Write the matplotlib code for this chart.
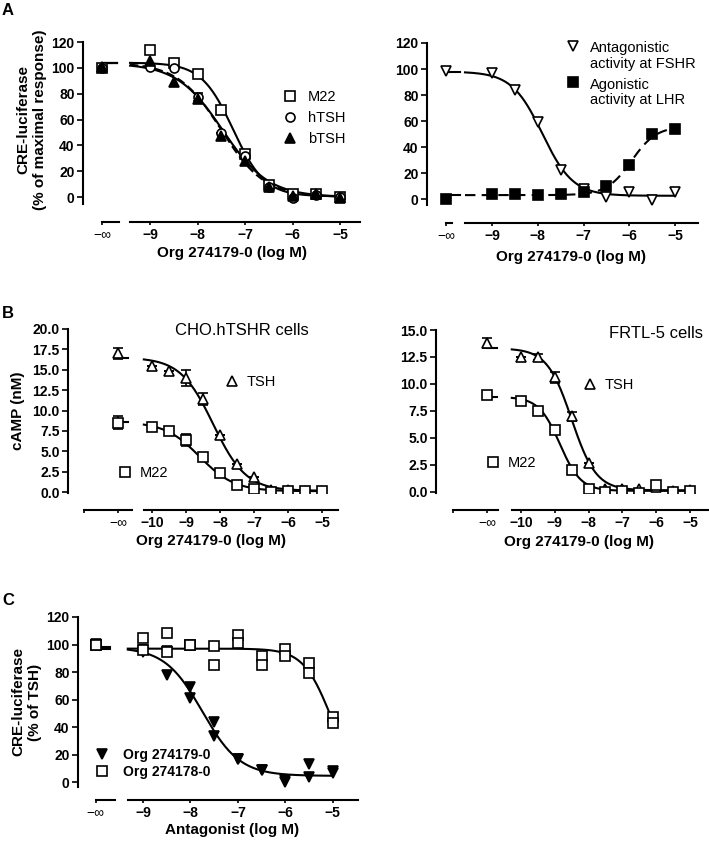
import numpy as np
import matplotlib
matplotlib.use("Agg")
import matplotlib.pyplot as plt
from matplotlib.legend_handler import HandlerLine2D

plt.rcParams["font.family"] = ["Liberation Sans", "DejaVu Sans"]
plt.rcParams["font.weight"] = "bold"
plt.rcParams["axes.labelweight"] = "bold"

W, H = 709, 846
NEG_INF = -np.inf

# ---------------- data ----------------
# panel A (left): CRE-luciferase, % of maximal response
dose_a = [NEG_INF, -9, -8.5, -8, -7.5, -7, -6.5, -6, -5.5, -5]
a_m22 = [100, 114, 104, 95, 67, 33, 9, 2, 2.5, 0]
a_m22_err = [0, 0, 3, 0, 0, 3, 0, 0, 0, 0]
a_htsh = [100, 101, 99.5, 77.5, 49.5, 31.5, 8, -0.8, 1.8, 0]
a_htsh_err = [0, 0, 0, 3, 0, 0, 0, 0, 0, 0]
a_btsh = [101, 105, 89, 76, 47, 27.5, 7.7, 0.5, 2, -0.8]
# fitted curves: top, bottom, logIC50, hill
fit_a_m22 = [104, 0.5, -7.25, 1.3]
fit_a_htsh = [103.5, 0, -7.47, 0.9]
fit_a_btsh = [104, 0, -7.5, 0.95]

# panel A (right)
a_fshr = [98.5, 97, 84, 59, 22.5, 8, 1.5, 5.5, -0.5, 5.5]
a_lhr = [0, 3.6, 3.6, 2.8, 4, 5.4, 9.7, 26, 50, 54]
fit_a_fshr = [98, 2.5, -7.9, 1.3]
fit_a_lhr = [56, 3, -5.95, -1.6]

# panel B: cAMP (nM)
dose_b = [NEG_INF, -10, -9.5, -9, -8.5, -8, -7.5, -7, -6.5, -6, -5.5, -5]
b1_tsh = [17.0, 15.5, 14.9, 14.0, 11.4, 7.0, 3.4, 1.8, 0.3, 0.25, 0.15, 0.15]
b1_tsh_err = [0.7, 0, 0, 1.0, 0.7, 0, 0, 0, 0, 0, 0, 0]
b1_m22 = [8.5, 8.0, 7.5, 6.4, 4.3, 2.3, 0.9, 0.4, 0, 0.1, 0.1, 0.1]
b1_m22_err = [0.8, 0, 0, 0.7, 0, 0, 0, 0, 0, 0, 0, 0]
fit_b1_tsh = [16.5, 0.15, -8.2, 0.9]
fit_b1_m22 = [8.6, 0.1, -8.6, 0.85]

b2_tsh = [13.8, 12.5, 12.5, 10.6, 7.0, 2.7, 0.3, 0.25, 0.25, 0.5, 0.12, 0.2]
b2_tsh_err = [0.5, 0, 0.3, 0.5, 0.4, 0, 0, 0, 0, 0, 0, 0]
b2_m22 = [8.95, 8.45, 7.5, 5.75, 2.0, 0.25, 0, 0.1, -0.1, 0.6, 0, 0.1]
fit_b2_tsh = [13.3, 0.15, -8.5, 1.2]
fit_b2_m22 = [8.8, 0.1, -8.85, 1.4]

# panel C: CRE-luciferase, % of TSH (duplicates)
dose_c = [NEG_INF, -9, -8.5, -8, -7.5, -7, -6.5, -6, -5.5, -5]
c179_rep1 = [100.7, 96, 95.5, 69, 44, 17, 8.5, 1.5, 12.8, 8]
c179_rep2 = [100, 94.7, 78, 60.8, 33.7, 17, 9, 0, 3.9, 6.8]
c178_rep1 = [99.5, 104.8, 108.5, 99.5, 98.8, 106.7, 91.5, 97, 86.2, 47.5]
c178_rep2 = [99.5, 95.9, 94.7, 99.5, 85, 101.2, 85, 91.5, 79.4, 43.1]
fit_c179 = [98, 4.5, -7.75, 1.1]
fit_c178 = [97, 0, -5.05, 1.5]

LW = 1.5
MS = 6.5
MEW = 1.2
INF_LABEL = "\u2212\u221e"


class FirstLineHandler(HandlerLine2D):
    # put the legend marker level with the first line of a two-line label
    def create_artists(self, legend, orig_handle, xdescent, ydescent,
                       width, height, fontsize, trans):
        arts = super().create_artists(legend, orig_handle, xdescent, ydescent,
                                      width, height, fontsize, trans)
        for a in arts:
            a.set_ydata(np.asarray(a.get_ydata()) + 0.75 * fontsize)
        return arts


def logistic(x, p):
    top, bottom, x50, hill = p
    return bottom + (top - bottom) / (1 + 10 ** ((np.asarray(x) - x50) * hill))


def xpos(dose, xinf):
    d = np.array(dose, dtype=float)
    d[np.isinf(d)] = xinf
    return d


def make_axes(fig, box, xlim, ylim, yticks, fmt, inf_ticks, inf_labels,
              inf_seg, main_seg, xticks, offset):
    l, t, r, b = box
    ax = fig.add_axes([l / W, 1 - b / H, (r - l) / W, (b - t) / H])
    ax.set_xlim(xlim)
    ax.set_ylim(ylim)
    for s in ("top", "right"):
        ax.spines[s].set_visible(False)
    ax.spines["left"].set_linewidth(LW)
    ax.spines["bottom"].set_linewidth(LW)
    ax.spines["bottom"].set_position(("outward", offset))
    ax.spines["bottom"].set_bounds(*main_seg)
    ax.set_xticks(xticks, labels=["\u2212%d" % abs(v) for v in xticks],
                  fontweight="bold", fontsize=10)
    ax.set_yticks(yticks, labels=[fmt % v for v in yticks],
                  fontweight="bold", fontsize=10)
    ax.tick_params(axis="y", direction="out", length=4, width=1.2, pad=2)
    ax.tick_params(axis="x", direction="out", length=2.5, width=1.2, pad=2)

    ax2 = ax.twiny()
    ax2.set_xlim(xlim)
    for s in ("top", "right", "left"):
        ax2.spines[s].set_visible(False)
    ax2.xaxis.set_ticks_position("bottom")
    ax2.spines["bottom"].set_linewidth(LW)
    ax2.spines["bottom"].set_position(("outward", offset))
    ax2.spines["bottom"].set_bounds(*inf_seg)
    ax2.set_xticks(inf_ticks, labels=inf_labels, fontweight="normal",
                   fontsize=10)
    ax2.tick_params(axis="x", direction="out", length=2.5, width=1.2, pad=2)
    return ax


def draw_series(ax, dose, vals, xinf, marker, filled, err=None):
    x = xpos(dose, xinf)
    if err is not None:
        ax.errorbar(x, vals, yerr=err, fmt="none", ecolor="black",
                    elinewidth=1.2, capsize=3.5, capthick=1.2, zorder=2)
    h, = ax.plot(x, vals, ls="none", marker=marker, ms=MS, mew=MEW,
                 mec="black", mfc="black" if filled else "white", zorder=3)
    return h


def draw_fit(ax, p, x0, xinf, ls="-"):
    xs = np.linspace(x0, -5, 300)
    ax.plot(xs, logistic(xs, p), color="black", lw=LW, ls=ls, zorder=1)
    y_inf = logistic(-30, p)
    ax.plot([xinf, xinf + 0.3], [y_inf, y_inf], color="black", lw=LW,
            ls="-", zorder=1)


legend_kw = dict(frameon=False, handlelength=1, borderpad=0, borderaxespad=0)
plain = {"weight": "normal", "size": 10.5}

fig = plt.figure(figsize=(W / 100, H / 100), dpi=100)

# ---------------- panel A left ----------------
main = (-9.42, -4.58)
ax = make_axes(fig, (83, 42, 360, 204), (-10.41, -4.58), (-5.4, 120),
               range(0, 121, 20), "%d", [-10], [INF_LABEL],
               (-10, -9.65), main, [-9, -8, -7, -6, -5], 13)
draw_fit(ax, fit_a_m22, main[0], -10)
draw_fit(ax, fit_a_htsh, main[0], -10)
draw_fit(ax, fit_a_btsh, main[0], -10, ls=(0, (4, 2)))
h1 = draw_series(ax, dose_a, a_m22, -10, "s", False, a_m22_err)
h2 = draw_series(ax, dose_a, a_htsh, -10, "o", False, a_htsh_err)
h3 = draw_series(ax, dose_a, a_btsh, -10, "^", True)
ax.legend([h1, h2, h3], ["M22", "hTSH", "bTSH"], loc="center left",
          bbox_to_anchor=(0.72, 0.53), handletextpad=0.73, prop=plain,
          **legend_kw)
ax.set_ylabel("CRE-luciferase\n(% of maximal response)", fontsize=11)
ax.yaxis.set_label_coords(-0.13, 0.52)
ax.set_xlabel("Org 274179-0 (log M)", fontsize=11)
ax.xaxis.set_label_coords(0.538, -0.26)

# ---------------- panel A right ----------------
main = (-9.59, -4.5)
ax = make_axes(fig, (427, 43, 698, 205), (-10.42, -4.5), (-4.6, 120),
               range(0, 121, 20), "%d", [-10], [INF_LABEL],
               (-10, -9.87), main, [-9, -8, -7, -6, -5], 13)
draw_fit(ax, fit_a_fshr, main[0], -10)
draw_fit(ax, fit_a_lhr, main[0], -10, ls=(0, (5, 3)))
h1 = draw_series(ax, dose_a, a_fshr, -10, "v", False)
h2 = draw_series(ax, dose_a, a_lhr, -10, "s", True)
leg = ax.legend([h1, h2], ["Antagonistic\nactivity at FSHR",
                           "Agonistic\nactivity at LHR"],
                loc="upper left", bbox_to_anchor=(0.512, 1.01),
                handletextpad=0.66, labelspacing=0.45, prop=plain,
                handler_map={h1: FirstLineHandler(), h2: FirstLineHandler()},
                **legend_kw)
for t in leg.get_texts():
    t.set_linespacing(1.15)
ax.set_xlabel("Org 274179-0 (log M)", fontsize=11)
ax.xaxis.set_label_coords(0.531, -0.28)

# ---------------- panel B left ----------------
main = (-10.24, -4.53)
ax = make_axes(fig, (68, 329, 338, 493), (-12.47, -4.53), (-0.12, 20),
               np.arange(0, 20.1, 2.5), "%.1f", [-12, -11],
               ["", INF_LABEL], (-12, -10.6), main,
               [-10, -9, -8, -7, -6, -5], 12)
draw_fit(ax, fit_b1_tsh, main[0], -11)
draw_fit(ax, fit_b1_m22, main[0], -11)
h1 = draw_series(ax, dose_b, b1_tsh, -11, "^", False, b1_tsh_err)
h2 = draw_series(ax, dose_b, b1_m22, -11, "s", False, b1_m22_err)
leg = ax.legend([h1], ["TSH"], loc="center left", bbox_to_anchor=(0.58, 0.677),
                handletextpad=0.5, prop=plain, **legend_kw)
ax.add_artist(leg)
ax.legend([h2], ["M22"], loc="center left", bbox_to_anchor=(0.184, 0.122),
          handletextpad=0.5, prop=plain, **legend_kw)
ax.text(0.644, 0.988, "CHO.hTSHR cells", transform=ax.transAxes,
        ha="center", va="center", fontsize=12, fontweight="normal")
ax.set_ylabel("cAMP (nM)", fontsize=11)
ax.yaxis.set_label_coords(-0.16, 0.5)
ax.set_xlabel("Org 274179-0 (log M)", fontsize=11)
ax.xaxis.set_label_coords(0.53, -0.25)

# ---------------- panel B right ----------------
main = (-10.27, -4.47)
ax = make_axes(fig, (436, 330, 708, 493), (-12.51, -4.47), (-0.1, 15),
               np.arange(0, 15.1, 2.5), "%.1f", [-12, -11],
               ["", INF_LABEL], (-12, -10.68), main,
               [-10, -9, -8, -7, -6, -5], 12)
draw_fit(ax, fit_b2_tsh, main[0], -11)
draw_fit(ax, fit_b2_m22, main[0], -11)
h1 = draw_series(ax, dose_b, b2_tsh, -11, "^", False, b2_tsh_err)
h2 = draw_series(ax, dose_b, b2_m22, -11, "s", False)
leg = ax.legend([h1], ["TSH"], loc="center left", bbox_to_anchor=(0.539, 0.663),
                handletextpad=0.5, prop=plain, **legend_kw)
ax.add_artist(leg)
ax.legend([h2], ["M22"], loc="center left", bbox_to_anchor=(0.183, 0.184),
          handletextpad=0.5, prop=plain, **legend_kw)
ax.text(0.81, 0.98, "FRTL-5 cells", transform=ax.transAxes,
        ha="center", va="center", fontsize=12, fontweight="normal")
ax.set_xlabel("Org 274179-0 (log M)", fontsize=11)
ax.xaxis.set_label_coords(0.527, -0.26)

# ---------------- panel C ----------------
main = (-9.32, -4.47)
ax = make_axes(fig, (78, 617, 358, 787), (-10.37, -4.47), (-3.6, 120),
               range(0, 121, 20), "%d", [-10], [INF_LABEL],
               (-10, -9.6), main, [-9, -8, -7, -6, -5], 9.5)
draw_fit(ax, fit_c179, main[0], -10)
draw_fit(ax, fit_c178, main[0], -10)
h1 = draw_series(ax, dose_c, c179_rep1, -10, "v", True)
draw_series(ax, dose_c, c179_rep2, -10, "v", True)
h2 = draw_series(ax, dose_c, c178_rep1, -10, "s", False)
draw_series(ax, dose_c, c178_rep2, -10, "s", False)
ax.legend([h1, h2], ["Org 274179-0", "Org 274178-0"], loc="center left",
          bbox_to_anchor=(0.061, 0.138), handletextpad=1.0, labelspacing=0.25,
          prop={"weight": "bold", "size": 10}, **legend_kw)
ax.set_ylabel("CRE-luciferase\n(% of TSH)", fontsize=11)
ax.yaxis.set_label_coords(-0.13, 0.5)
ax.set_xlabel("Antagonist (log M)", fontsize=11)
ax.xaxis.set_label_coords(0.55, -0.21)

# panel letters
for letter, ypx in (("A", 3), ("B", 306), ("C", 593)):
    fig.text(2 / W, 1 - ypx / H, letter, ha="left", va="top",
             fontsize=12, fontweight="bold")

fig.savefig("out.png", dpi=100, facecolor="white")
